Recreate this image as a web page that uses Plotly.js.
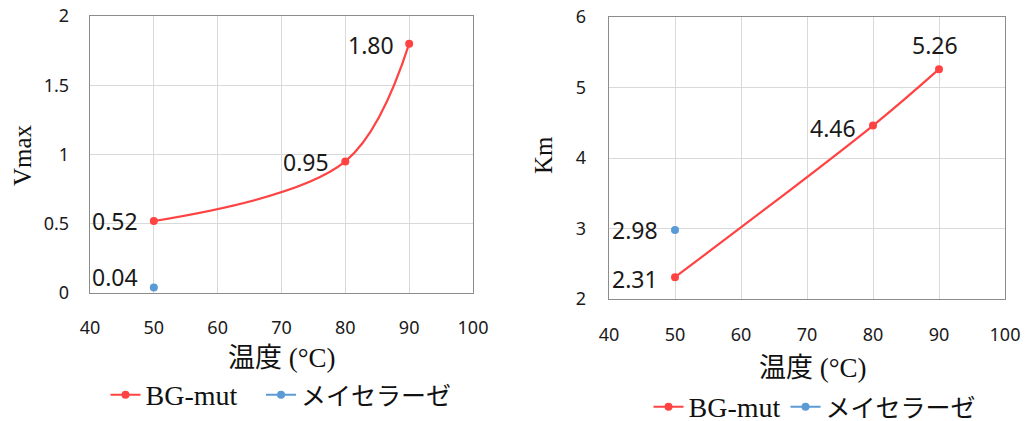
<!DOCTYPE html>
<html>
<head>
<meta charset="utf-8">
<script src="https://cdn.plot.ly/plotly-3.0.1.min.js"></script>
<style>html,body{margin:0;padding:0;background:#fff;}#chart{width:1027px;height:421px;}</style>
</head>
<body>
<div id="chart"></div>
<script>
// ---- data ----
const temps = [50, 80, 90];
const vmaxBG = [0.52, 0.95, 1.80];
const vmaxMeicelase = [0.04];
const kmBG = [2.31, 4.46, 5.26];
const kmMeicelase = [2.98];
const meicelaseTemp = [50];
const seriesNames = ['BG-mut', 'メイセラーゼ'];
const xTitle = '温度 (°C)';
const yTitles = ['Vmax', 'Km'];

const RED = '#FF4343';
const BLUE = '#5B9BD5';
const labelFont = {family: 'Noto Sans, Open Sans, sans-serif', size: 23, color: '#1a1a1a'};
const legendFont = {family: 'Liberation Serif, Noto Sans CJK JP, serif', size: 25, color: '#111'};
const legendName = (s, i, pad) => i === 0 ? '<span style="font-size:28px">' + s + '</span>' + pad : s;

function series(x, y, name, color, xa, ya, lg, spline) {
  return {x: x, y: y, name: name, type: 'scatter', mode: 'lines+markers',
    line: {color: color, width: 2.2, shape: spline ? 'spline' : 'linear', smoothing: 1},
    marker: {color: color, size: 8}, xaxis: xa, yaxis: ya, legend: lg, cliponaxis: false};
}

const traces = [
  series(temps, vmaxBG, legendName(seriesNames[0], 0, '&nbsp;&nbsp;&nbsp;'), RED, 'x', 'y', 'legend', true),
  series(meicelaseTemp, vmaxMeicelase, legendName(seriesNames[1], 1, ''), BLUE, 'x', 'y', 'legend', false),
  series(temps, kmBG, legendName(seriesNames[0], 0, ''), RED, 'x2', 'y2', 'legend2', true),
  series(meicelaseTemp, kmMeicelase, legendName(seriesNames[1], 1, ''), BLUE, 'x2', 'y2', 'legend2', false)
];

// data labels (offsets are styling only)
function labels(x, y, xa, ya, offs) {
  return x.map((xv, i) => {
    const o = offs[i];
    return {x: xv, y: y[i], xref: xa, yref: ya, text: y[i].toFixed(2), showarrow: false,
      font: labelFont, xanchor: o.xanchor, yanchor: 'middle', xshift: o.dx, yshift: o.dy};
  });
}
const dataLabels = []
  .concat(labels(temps, vmaxBG, 'x', 'y', [{xanchor: 'right', dx: -14, dy: 0}, {xanchor: 'right', dx: -14, dy: -1}, {xanchor: 'right', dx: -13, dy: -1}]))
  .concat(labels(meicelaseTemp, vmaxMeicelase, 'x', 'y', [{xanchor: 'right', dx: -14, dy: 10}]))
  .concat(labels(temps, kmBG, 'x2', 'y2', [{xanchor: 'right', dx: -15, dy: -2}, {xanchor: 'right', dx: -15, dy: -2}, {xanchor: 'center', dx: -4, dy: 24}]))
  .concat(labels(meicelaseTemp, kmMeicelase, 'x2', 'y2', [{xanchor: 'right', dx: -15, dy: 0}]));

const tickFont = {family: 'Noto Sans, Open Sans, sans-serif', size: 18, color: '#1a1a1a'};
const axBase = {
  showgrid: true, gridcolor: '#D9D9D9', gridwidth: 1,
  showline: true, mirror: true, linecolor: '#8c8c8c', linewidth: 1.3,
  zeroline: false, ticks: '', tickfont: tickFont, fixedrange: true
};
const titleFont = {family: 'Liberation Serif, Noto Sans CJK JP, serif', size: 25, color: '#111'};
const xTitleFont = {family: 'Liberation Serif, Noto Sans CJK JP, serif', size: 27, color: '#111'};

const layout = {
  width: 1027, height: 421,
  margin: {l: 0, r: 0, t: 0, b: 0, autoexpand: false},
  paper_bgcolor: '#fff', plot_bgcolor: '#fff',
  showlegend: true,
  xaxis: Object.assign({}, axBase, {domain: [90/1027, 473/1027], range: [40, 100], dtick: 10, tick0: 40, anchor: 'y', ticklabelstandoff: 18}),
  yaxis: Object.assign({}, axBase, {domain: [1 - 293/421, 1 - 16/421], range: [0, 2], dtick: 0.5, anchor: 'x', ticklabelstandoff: 16}),
  xaxis2: Object.assign({}, axBase, {domain: [609/1027, 1005/1027], range: [40, 100], dtick: 10, tick0: 40, anchor: 'y2', ticklabelstandoff: 19}),
  yaxis2: Object.assign({}, axBase, {domain: [1 - 299/421, 1 - 17/421], range: [2, 6], dtick: 1, anchor: 'x2', ticklabelstandoff: 18}),
  legend: {orientation: 'h', x: 281/1027, xanchor: 'center', y: 1 - 395/421, yanchor: 'middle',
           font: legendFont, itemwidth: 30, bgcolor: 'rgba(0,0,0,0)'},
  legend2: {orientation: 'h', x: 815/1027, xanchor: 'center', y: 1 - 407/421, yanchor: 'middle',
            font: legendFont, itemwidth: 30, bgcolor: 'rgba(0,0,0,0)'},
  annotations: dataLabels.concat([
    {text: yTitles[0], xref: 'paper', yref: 'paper', x: 22/1027, y: 1 - 155/421, textangle: -90,
     xanchor: 'center', yanchor: 'middle', showarrow: false, font: titleFont},
    {text: yTitles[1], xref: 'paper', yref: 'paper', x: 543/1027, y: 1 - 155/421, textangle: -90,
     xanchor: 'center', yanchor: 'middle', showarrow: false, font: titleFont},
    {text: xTitle, xref: 'paper', yref: 'paper', x: 282/1027, y: 1 - 358/421,
     xanchor: 'center', yanchor: 'middle', showarrow: false, font: xTitleFont},
    {text: xTitle, xref: 'paper', yref: 'paper', x: 813/1027, y: 1 - 368/421,
     xanchor: 'center', yanchor: 'middle', showarrow: false, font: xTitleFont}
  ])
};

Plotly.newPlot('chart', traces, layout, {displayModeBar: false, staticPlot: true});
</script>
</body>
</html>
